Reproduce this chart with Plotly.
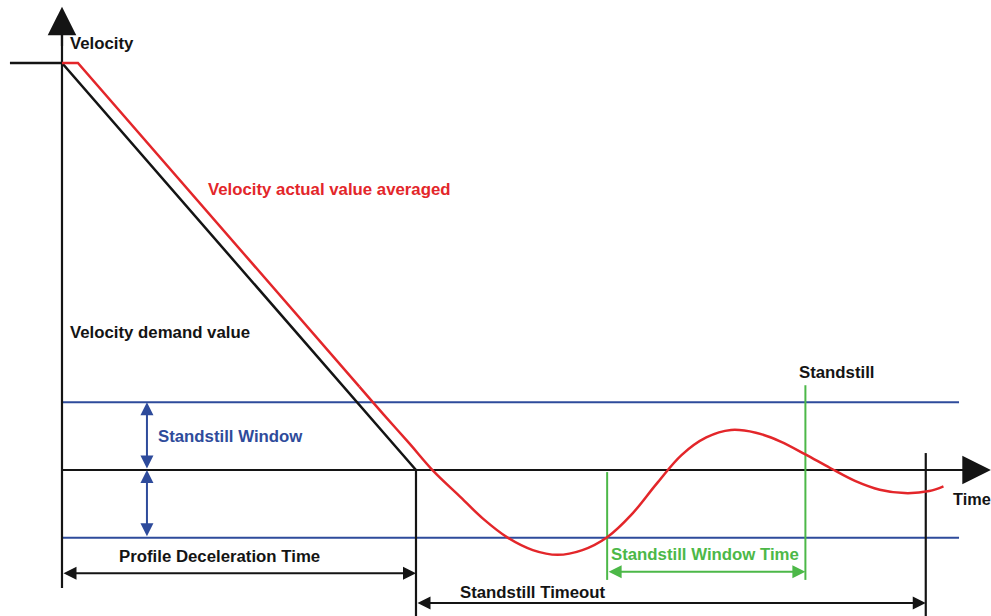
import plotly.graph_objects as go

# ---- data (time in ms-like units, velocity in arbitrary units) ----
demand_t = [-14.7, 0, 100]
demand_v = [60, 60, 0]

actual_lin_t = [0, 4.5, 84]
actual_lin_v = [60, 60, 12.3]

actual_curve_t = [84, 91, 98, 105, 112, 119, 126, 133, 140, 147, 154, 161, 168,
                  175, 182, 189, 196, 203, 210, 217, 224, 231, 238, 245, 249]
actual_curve_v = [12.3, 8.1, 4.0, -0.2, -3.7, -7.2, -10.0, -11.8, -12.5, -11.8,
                  -9.9, -6.5, -2.0, 2.2, 4.8, 5.9, 5.5, 4.2, 2.3, 0.3, -1.6,
                  -2.9, -3.4, -3.1, -2.4]

window = 10
t_decel_end = 100
t_window_start = 154
t_standstill = 210
t_timeout_end = 244
t_axis_end = 262.4
t_blue_end = 253.4
v_axis_top = 68.3
v_axis_bottom = -17.4
v_bottom = -21.6

BLACK = "#141414"
RED = "#e3262a"
BLUE = "#2e4b9b"
GREEN = "#4cb848"
FONT = "Liberation Sans"

fig = go.Figure()

def line(t, v, color, width):
    fig.add_trace(go.Scatter(x=t, y=v, mode="lines",
                             line=dict(color=color, width=width),
                             hoverinfo="skip", showlegend=False))

# standstill window lines
line([0, t_blue_end], [window, window], BLUE, 2)
line([0, t_blue_end], [-window, -window], BLUE, 2)
# zero line (time axis)
line([0, t_axis_end - 4], [0, 0], BLACK, 2.2)
# verticals
line([t_decel_end, t_decel_end], [0, v_bottom], BLACK, 2.2)
line([t_timeout_end, t_timeout_end], [2.5, v_bottom], BLACK, 2.2)
line([t_window_start, t_window_start], [-0.3, -16.2], GREEN, 2)
line([t_standstill, t_standstill], [12.5, -16.2], GREEN, 2)
# velocity axis
line([0, 0], [v_axis_bottom, v_axis_top - 3], BLACK, 2.2)
# demand velocity
line(demand_t, demand_v, BLACK, 2.5)
# actual velocity
line(actual_lin_t, actual_lin_v, RED, 2.5)
fig.add_trace(go.Scatter(x=actual_curve_t, y=actual_curve_v, mode="lines",
                         line=dict(color=RED, width=2.5, shape="spline", smoothing=1.0),
                         hoverinfo="skip", showlegend=False))

def arrow(x0, y0, x1, y1, color, width=2, size=1.3, head=2, both=True):
    fig.add_annotation(x=x1, y=y1, ax=x0, ay=y0, xref="x", yref="y",
                       axref="x", ayref="y", text="", showarrow=True,
                       arrowhead=head, startarrowhead=head,
                       arrowsize=size, startarrowsize=size,
                       arrowwidth=width, arrowcolor=color,
                       arrowside="end+start" if both else "end",
                       standoff=0, startstandoff=0)

# axis arrowheads
arrow(0, v_axis_top - 6, 0, v_axis_top, BLACK, width=2.2, size=2.6, head=2, both=False)
arrow(t_axis_end - 8, 0, t_axis_end, 0, BLACK, width=2.2, size=2.6, head=2, both=False)
# standstill window double arrows
arrow(24, 0, 24, window, BLUE, width=2)
arrow(24, -window, 24, 0, BLUE, width=2)
# dimension arrows
arrow(0, -15.2, t_decel_end, -15.2, BLACK, width=2)
arrow(t_decel_end, -19.6, t_timeout_end, -19.6, BLACK, width=2)
arrow(t_window_start, -15.0, t_standstill, -15.0, GREEN, width=2)

def label(text, t, v, color, xanchor="left", size=16.8):
    fig.add_annotation(x=t, y=v, xref="x", yref="y", text="<b>%s</b>" % text,
                       showarrow=False, xanchor=xanchor, yanchor="middle",
                       font=dict(family=FONT, size=size, color=color))

label("Velocity", 1.7, 62.95, BLACK)
label("Velocity actual value averaged", 40.6, 41.3, RED)
label("Velocity demand value", 1.7, 20.3, BLACK)
label("Standstill Window", 26.5, 5.0, BLUE)
label("Profile Deceleration Time", 44.6, -12.8, BLACK, "center")
label("Standstill Timeout", 133, -18.1, BLACK, "center")
label("Standstill Window Time", 181.6, -12.5, GREEN, "center")
label("Standstill", 219, 14.4, BLACK, "center")
label("Time", 251.2, -4.3, BLACK, "left", 16.3)

fig.update_layout(
    width=991, height=616,
    margin=dict(l=0, r=0, t=0, b=0),
    paper_bgcolor="white", plot_bgcolor="white",
    xaxis=dict(range=[-17.51, 262.43], visible=False, fixedrange=True),
    yaxis=dict(range=[-21.52, 69.29], visible=False, fixedrange=True),
    showlegend=False,
)

fig.write_html("out.html", config={"displayModeBar": False},
               post_script="document.body.style.margin='0';document.body.style.overflow='hidden';")
